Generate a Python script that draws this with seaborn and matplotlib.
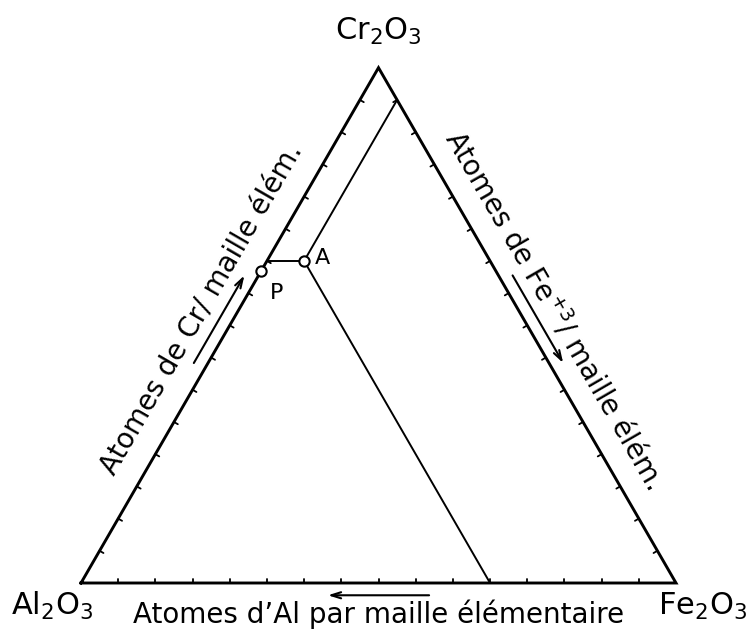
import numpy as np
import pandas as pd
import matplotlib
matplotlib.use('Agg')
import matplotlib.pyplot as plt
import seaborn as sns

# Diagramme ternaire Al2O3 - Fe2O3 - Cr2O3 (16 cations trivalents par maille)
n_atomes = 16
noms_sommets = ['Al$_2$O$_3$', 'Fe$_2$O$_3$', 'Cr$_2$O$_3$']

# compositions (Al, Cr, Fe) en atomes par maille
comp_A = (5, 10, 1)
cr_P = 9.7
fin_horizontale = (6, 10, 0)   # A -> cote gauche (Cr constant)
fin_bas = (5, 0, 11)           # A -> base (Al constant)
fin_haut = (0, 15, 1)          # A -> cote droit (Fe constant)

titre_bas = "Atomes d\u2019Al par maille élémentaire"
titre_gauche = "Atomes de Cr/ maille élém."
titre_droite = "Atomes de Fe$^{+3}$/ maille élém."


def tern(al, cr, fe):
    # coordonnees cartesiennes (en atomes) d'une composition
    return fe + cr / 2.0, cr * np.sqrt(3) / 2.0


sommets = np.array([tern(16, 0, 0), tern(0, 0, 16), tern(0, 16, 0)])

# echelle : 595 px pour 16 atomes
s = 595 / n_atomes
sns.set_style("white")
plt.rcParams['font.family'] = ['DejaVu Sans']
plt.rcParams['text.color'] = 'black'
fig = plt.figure(figsize=(7.47, 6.37), dpi=100)
ax = fig.add_axes([0, 0, 1, 1])

# 1. Triangle
tri = pd.DataFrame(np.vstack([sommets, sommets[:1]]), columns=['x', 'y'])
tri['ordre'] = range(len(tri))
sns.lineplot(data=tri, x='x', y='y', sort=False, estimator=None, color='black',
             lw=2.1, ax=ax, solid_joinstyle='miter', solid_capstyle='projecting')

# 2. Segments passant par A
lignes = []
for nom, fin in [('h', fin_horizontale), ('b', fin_bas), ('t', fin_haut)]:
    for c in [comp_A, fin]:
        x, y = tern(*c)
        lignes.append({'x': x, 'y': y, 'trait': nom})
lignes = pd.DataFrame(lignes)
sns.lineplot(data=lignes, x='x', y='y', units='trait', sort=False, estimator=None,
             color='black', lw=1.4, ax=ax)

# 3. Graduations vers l'interieur (tous les atomes)
grad = []
long_grad = 0.12
for i in range(3):
    p0, p1 = sommets[i], sommets[(i + 1) % 3]
    d = (p1 - p0) / n_atomes
    n_int = np.array([-d[1], d[0]]) / np.hypot(*d)
    for k in range(1, n_atomes):
        q = p0 + k * d
        for e in (0, long_grad):
            grad.append({'x': q[0] + e * n_int[0], 'y': q[1] + e * n_int[1],
                         'trait': f'{i}-{k}'})
grad = pd.DataFrame(grad)
sns.lineplot(data=grad, x='x', y='y', units='trait', sort=False, estimator=None,
             color='black', lw=1.3, ax=ax)

# 4. Points P et A
pts = pd.DataFrame([tern(n_atomes - cr_P, cr_P, 0), tern(*comp_A)], columns=['x', 'y'])
pts['nom'] = ['P', 'A']
sns.scatterplot(data=pts, x='x', y='y', s=55, color='white', edgecolor='black',
                linewidth=1.5, zorder=4, ax=ax, legend=False)
ax.annotate('P', (pts.x[0], pts.y[0]), xytext=(11, -16), textcoords='offset points',
            ha='center', va='center', fontsize=16)
ax.annotate('A', (pts.x[1], pts.y[1]), xytext=(13.5, 2), textcoords='offset points',
            ha='center', va='center', fontsize=16)

# 5. Noms des sommets
decalages = [(-21, -23), (19, -23), (0, 20)]
for (x, y), nom, dec in zip(sommets, noms_sommets, decalages):
    ax.annotate(nom, (x, y), xytext=dec, textcoords='offset points',
                ha='center', va='baseline', fontsize=22)

# 6. Titres des cotes et fleches
titres = [titre_bas, titre_droite, titre_gauche]
rotations = [0, -60, 60]
for i in range(3):
    p0, p1 = sommets[i], sommets[(i + 1) % 3]
    u = (p1 - p0) / np.hypot(*(p1 - p0))
    n_ext = np.array([u[1], -u[0]])
    c = p0 + 0.5 * (p1 - p0) + 0.84 * n_ext
    ax.text(c[0], c[1], titres[i], rotation=rotations[i], rotation_mode='anchor',
            ha='center', va='center', fontsize=20)
    a0 = p0 + 0.585 * (p1 - p0) + 0.33 * n_ext
    a1 = p0 + 0.415 * (p1 - p0) + 0.33 * n_ext
    ax.annotate('', xy=a1, xytext=a0,
                arrowprops=dict(arrowstyle='->,head_length=0.7,head_width=0.22',
                                lw=1.5, color='black', shrinkA=0, shrinkB=0))

ax.set_xlim(-81 / s, (747 - 81) / s)
ax.set_ylim(-(637 - 583) / s, 583 / s)
ax.axis('off')
fig.savefig('out.png', dpi=100)
